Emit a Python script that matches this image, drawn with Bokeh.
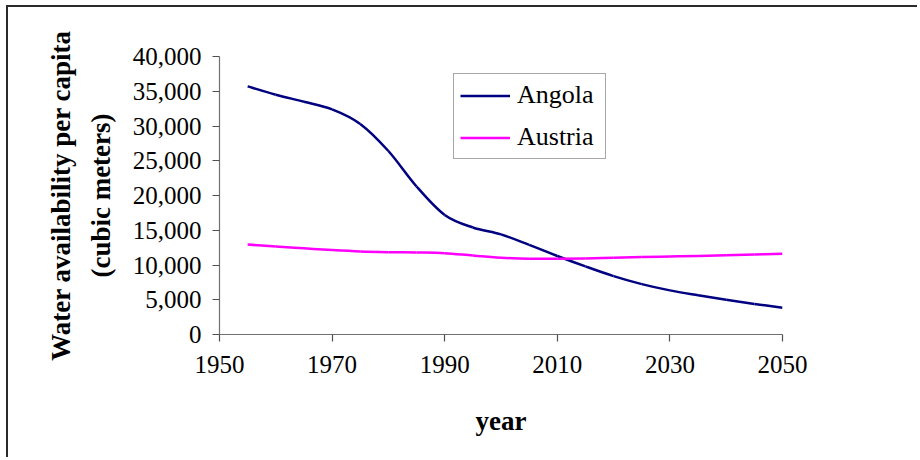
from bokeh.plotting import figure
from bokeh.models import FixedTicker, NumeralTickFormatter, Legend, LegendItem, Range1d
from bokeh.embed import file_html
from bokeh.resources import INLINE

years = [1955, 1960, 1965, 1970, 1975, 1980, 1985, 1990, 1995, 2000,
         2005, 2010, 2015, 2020, 2025, 2030, 2035, 2040, 2045, 2050]
angola = [35700, 34500, 33500, 32400, 30300, 26400, 21300, 17200, 15400, 14400,
          12900, 11300, 9800, 8400, 7250, 6350, 5650, 5000, 4400, 3850]
austria = [12950, 12650, 12400, 12150, 11950, 11850, 11800, 11700, 11350, 11050,
           10900, 10900, 10950, 11050, 11140, 11220, 11300, 11400, 11500, 11630]
x_ticks = [1950, 1970, 1990, 2010, 2030, 2050]
y_ticks = [0, 5000, 10000, 15000, 20000, 25000, 30000, 35000, 40000]

FONT = "Liberation Serif"


def smooth_segments(xs, ys):
    # Catmull-Rom -> cubic Bezier control points (like a spreadsheet "smoothed line")
    n = len(xs)
    x0, y0, x1, y1, cx0, cy0, cx1, cy1 = [], [], [], [], [], [], [], []
    for i in range(n - 1):
        xm, ym = (xs[i - 1], ys[i - 1]) if i > 0 else (xs[i], ys[i])
        xp, yp = (xs[i + 2], ys[i + 2]) if i + 2 < n else (xs[i + 1], ys[i + 1])
        x0.append(xs[i]); y0.append(ys[i])
        x1.append(xs[i + 1]); y1.append(ys[i + 1])
        cx0.append(xs[i] + (xs[i + 1] - xm) / 6.0)
        cy0.append(ys[i] + (ys[i + 1] - ym) / 6.0)
        cx1.append(xs[i + 1] - (xp - xs[i]) / 6.0)
        cy1.append(ys[i + 1] - (yp - ys[i]) / 6.0)
    return dict(x0=x0, y0=y0, x1=x1, y1=y1, cx0=cx0, cy0=cy0, cx1=cx1, cy1=cy1)


p = figure(width=911, height=452, output_backend="svg", toolbar_location=None,
           x_range=Range1d(1950, 2050), y_range=Range1d(0, 40000),
           min_border_left=211, min_border_right=137, min_border_top=49, min_border_bottom=125)
p.styles = {"border-left": "2px solid #2a2a2a", "border-top": "2px solid #2a2a2a",
            "margin-left": "6px", "margin-top": "5px"}
p.outline_line_color = None
p.xgrid.visible = False
p.ygrid.visible = False
p.background_fill_color = "white"
p.border_fill_color = "white"

ANG_C = "#000080"
AUS_C = "#FF00FF"
p.bezier(line_color=ANG_C, line_width=2.5, **smooth_segments(years, angola))
p.bezier(line_color=AUS_C, line_width=2.5, **smooth_segments(years, austria))
# hidden line renderers that only supply the legend swatches
r1 = p.line(years, angola, line_color=ANG_C, line_width=2.5, visible=False)
r2 = p.line(years, austria, line_color=AUS_C, line_width=2.5, visible=False)

for ax in (p.xaxis[0], p.yaxis[0]):
    ax.axis_line_color = "#707070"
    ax.axis_line_width = 1.2
    ax.major_tick_line_color = "#505050"
    ax.major_tick_line_width = 1.2
    ax.major_tick_in = 0
    ax.major_tick_out = 7
    ax.minor_tick_line_color = None
    ax.major_label_text_font = FONT
    ax.major_label_text_font_size = "25px"
    ax.major_label_text_color = "black"
    ax.axis_label_text_font = FONT
    ax.axis_label_text_font_style = "bold"
    ax.axis_label_text_font_size = "27px"
    ax.axis_label_text_color = "black"

p.xaxis[0].ticker = FixedTicker(ticks=x_ticks)
p.yaxis[0].ticker = FixedTicker(ticks=y_ticks)
p.yaxis[0].formatter = NumeralTickFormatter(format="0,0")
p.xaxis[0].major_label_standoff = 14
p.yaxis[0].major_label_standoff = 11
p.xaxis[0].axis_label = "year"
p.xaxis[0].axis_label_standoff = 30
p.yaxis[0].axis_label = "Water availability per capita\n(cubic meters)"
p.yaxis[0].axis_label_standoff = 14
p.yaxis[0].axis_label_text_line_height = 1.32

legend = Legend(items=[LegendItem(label="Angola", renderers=[r1]),
                       LegendItem(label="Austria", renderers=[r2])],
                location=(234, 175))
legend.label_text_font = FONT
legend.label_text_font_size = "26px"
legend.label_text_color = "black"
legend.border_line_color = "#505050"
legend.border_line_width = 1.2
legend.background_fill_alpha = 1.0
legend.inactive_fill_alpha = 0.0
legend.padding = 6
legend.margin = 0
legend.spacing = 12
legend.glyph_width = 50
legend.glyph_height = 27
legend.label_height = 27
legend.label_width = 82
legend.label_standoff = 7
p.add_layout(legend, "center")

open("out.html", "w").write(file_html(p, INLINE))
